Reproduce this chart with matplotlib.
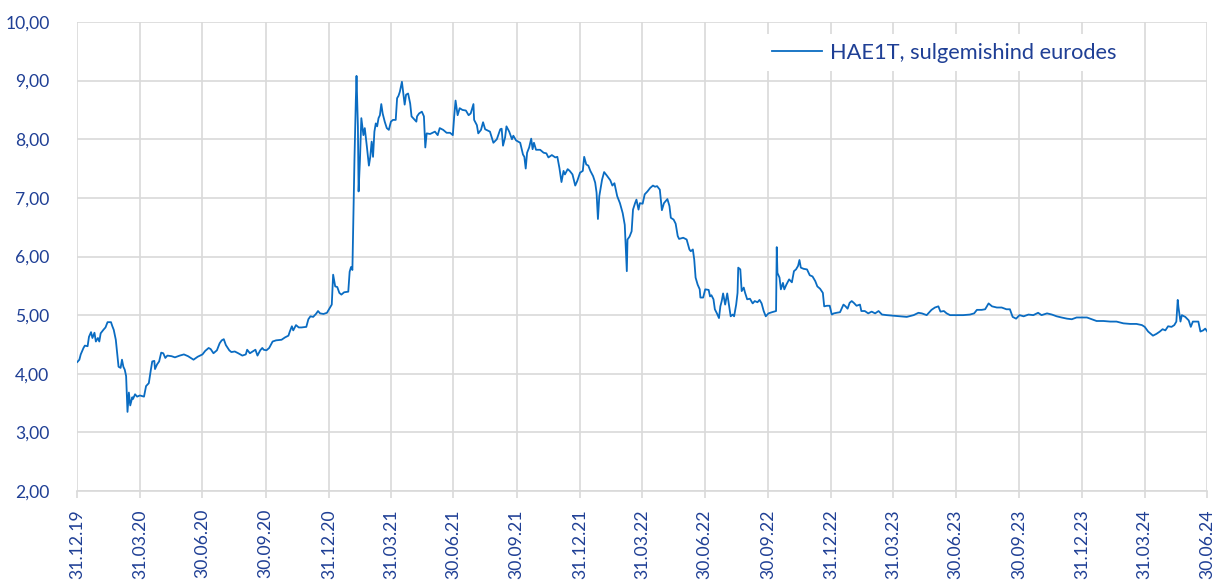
import pandas as pd
import matplotlib
matplotlib.use("Agg")
import matplotlib.pyplot as plt

# HAE1T sulgemishind, päevad alates 31.12.19
start = "2019-12-31"
days = [
    0, 3, 5, 9, 11, 15, 17, 20, 22, 25, 27, 30, 32, 34, 38, 41, 44, 49, 51, 53,
    56, 58, 60, 63, 65, 67, 69, 71, 73, 75, 77, 80, 81, 84, 87, 91, 97, 100, 104, 107,
    109, 112, 113, 116, 119, 122, 125, 128, 131, 137, 142, 149, 155, 161, 169, 175, 182, 186, 191, 194,
    198, 203, 207, 210, 213, 216, 221, 224, 229, 234, 240, 245, 247, 251, 255, 259, 262, 266, 269, 271,
    275, 279, 284, 289, 297, 302, 307, 309, 312, 314, 318, 322, 326, 333, 336, 339, 343, 347, 350, 353,
    358, 363, 366,
    370, 372, 375, 378, 381, 384, 388, 394, 396, 398, 400, 401, 403, 405, 406, 408, 409, 411, 413, 416,
    418, 421, 424, 426, 428, 430, 432, 434, 436, 438, 440, 442, 444, 447, 450, 453, 456, 459, 463, 465,
    467, 469, 472, 474, 476, 478, 481, 484, 486, 490, 493, 494, 497, 501, 504, 506, 508, 513, 520, 524,
    527, 532, 537, 542, 546, 548, 550, 553, 556, 560, 565, 569, 572, 576, 577, 581, 583,
    587, 590, 593, 600, 605, 610, 615, 617, 619, 622, 624, 628, 632, 634, 638, 644, 648, 650, 652, 654,
    657, 660, 662, 664, 667, 673, 678, 682, 685, 690, 695, 698, 701, 704, 707, 709, 713, 716, 720, 724,
    727, 731, 735, 737, 740, 743, 746, 750, 753, 755, 757, 759, 761, 763, 766, 770, 775, 778, 781, 783,
    785, 789, 793, 796, 797, 799, 800, 803, 806, 808, 811, 813, 816, 818, 822, 825, 829, 833, 837, 840,
    843, 847,
    850, 853, 858, 861, 863, 867, 870, 873, 875, 881, 886, 890, 892, 895, 897, 899, 902, 905, 906, 910,
    913, 918, 920, 922, 925, 927, 930, 933, 935, 937, 939, 942, 945, 948, 950, 953, 955, 958, 960, 961,
    964, 966, 969, 971, 974, 978, 982, 985, 989, 992, 995, 998, 1001, 1005, 1010, 1016, 1017, 1018, 1021, 1023,
    1026, 1028, 1031, 1035, 1039, 1042, 1045, 1048, 1050, 1052, 1056, 1061, 1065, 1069, 1073, 1076, 1080, 1084, 1086, 1090,
    1094, 1097, 1100, 1104, 1109, 1114, 1117, 1120, 1123, 1126, 1129, 1133, 1138,
    1140, 1145, 1150, 1155, 1160, 1165, 1170, 1177, 1187, 1196, 1206, 1216, 1223, 1228, 1235, 1242, 1247, 1252, 1255, 1260,
    1264, 1269, 1278, 1288, 1298, 1304, 1308, 1315, 1320, 1325, 1330, 1337, 1344, 1351, 1356, 1360, 1365, 1370, 1376, 1383,
    1390, 1397, 1402, 1410, 1417, 1424, 1431, 1439, 1446, 1453, 1462, 1468, 1475, 1482, 1492, 1502, 1511, 1521, 1531, 1540,
    1548, 1552, 1557, 1564, 1569, 1574, 1578, 1582, 1586, 1591, 1595, 1598, 1600, 1601, 1604, 1606, 1611, 1616, 1619, 1622,
    1630, 1633, 1637, 1640, 1643,
]
price = [
    4.20, 4.24, 4.33, 4.44, 4.48, 4.47, 4.63, 4.71, 4.61, 4.70, 4.55, 4.61, 4.55, 4.69, 4.75, 4.79, 4.88, 4.88, 4.81, 4.75,
    4.58, 4.35, 4.12, 4.10, 4.24, 4.12, 4.07, 3.96, 3.35, 3.68, 3.46, 3.60, 3.57, 3.65, 3.61, 3.63, 3.61, 3.79, 3.84, 4.07,
    4.21, 4.22, 4.08, 4.16, 4.21, 4.36, 4.35, 4.27, 4.31, 4.30, 4.28, 4.31, 4.33, 4.30, 4.24, 4.29, 4.33, 4.39, 4.44, 4.42,
    4.35, 4.40, 4.52, 4.57, 4.59, 4.49, 4.40, 4.37, 4.38, 4.35, 4.31, 4.33, 4.41, 4.35, 4.38, 4.41, 4.31, 4.40, 4.44, 4.41,
    4.40, 4.44, 4.55, 4.57, 4.58, 4.62, 4.65, 4.72, 4.81, 4.74, 4.83, 4.79, 4.79, 4.80, 4.93, 4.98, 4.97, 5.02, 5.07, 5.03,
    5.02, 5.04, 5.10,
    5.18, 5.69, 5.49, 5.48, 5.38, 5.35, 5.39, 5.40, 5.74, 5.82, 5.77, 6.40, 7.65, 8.67, 9.08, 8.22, 7.11, 7.65, 8.36, 8.07,
    8.19, 7.88, 7.55, 7.70, 7.96, 7.70, 8.13, 8.27, 8.22, 8.36, 8.41, 8.60, 8.44, 8.30, 8.19, 8.16, 8.30, 8.33, 8.33, 8.70,
    8.74, 8.81, 8.98, 8.78, 8.59, 8.76, 8.78, 8.61, 8.39, 8.34, 8.30, 8.39, 8.44, 8.47, 8.39, 7.86, 8.10, 8.09, 8.13, 8.07,
    8.19, 8.16, 8.11, 8.11, 8.07, 8.39, 8.66, 8.41, 8.53, 8.50, 8.49, 8.41, 8.44, 8.60, 8.33, 8.24, 8.10,
    8.16, 8.29, 8.17, 8.13, 7.94, 8.00, 8.17, 8.18, 7.89, 8.03, 8.22, 8.13, 8.00, 8.06, 7.98, 7.94, 7.74, 7.70, 7.50, 7.77,
    7.86, 8.01, 7.83, 7.94, 7.82, 7.82, 7.77, 7.76, 7.69, 7.73, 7.69, 7.70, 7.51, 7.27, 7.46, 7.40, 7.49, 7.46, 7.40, 7.21,
    7.29, 7.43, 7.46, 7.70, 7.57, 7.55, 7.46, 7.37, 7.26, 7.09, 6.64, 7.03, 7.17, 7.31, 7.44, 7.38, 7.30, 7.21, 7.25, 7.14,
    7.03, 6.91, 6.74, 6.54, 6.29, 5.75, 6.29, 6.34, 6.43, 6.80, 6.91, 6.97, 6.80, 6.91, 6.90, 7.06, 7.11, 7.17, 7.21, 7.19,
    7.20, 7.14,
    6.79, 6.91, 6.98, 6.86, 6.66, 6.63, 6.56, 6.35, 6.30, 6.32, 6.29, 6.12, 6.09, 6.12, 5.95, 5.64, 5.52, 5.44, 5.30, 5.30,
    5.44, 5.43, 5.32, 5.34, 5.27, 5.10, 5.03, 4.95, 5.15, 5.24, 5.37, 5.18, 5.37, 5.13, 4.98, 5.01, 4.98, 5.18, 5.38, 5.81,
    5.78, 5.41, 5.47, 5.38, 5.27, 5.28, 5.20, 5.24, 5.22, 5.26, 5.20, 5.07, 4.98, 5.03, 5.05, 5.07, 6.16, 5.72, 5.64, 5.44,
    5.55, 5.44, 5.52, 5.61, 5.56, 5.75, 5.78, 5.84, 5.94, 5.81, 5.79, 5.78, 5.68, 5.66, 5.58, 5.49, 5.45, 5.38, 5.15, 5.16,
    5.16, 5.01, 5.03, 5.04, 5.05, 5.18, 5.15, 5.11, 5.21, 5.24, 5.21, 5.16, 5.18,
    5.07, 5.07, 5.03, 5.06, 5.03, 5.07, 5.01, 5.00, 4.99, 4.98, 4.97, 5.00, 5.04, 5.03, 5.00, 5.09, 5.13, 5.15, 5.06, 5.07,
    5.03, 5.00, 5.00, 5.00, 5.01, 5.03, 5.09, 5.09, 5.10, 5.20, 5.15, 5.13, 5.13, 5.10, 5.10, 4.97, 4.94, 5.00, 4.98, 5.01,
    5.00, 5.04, 5.00, 5.03, 5.01, 4.98, 4.96, 4.94, 4.93, 4.96, 4.96, 4.96, 4.93, 4.90, 4.90, 4.89, 4.89, 4.86, 4.85, 4.85,
    4.83, 4.80, 4.72, 4.65, 4.68, 4.72, 4.76, 4.74, 4.81, 4.80, 4.83, 4.89, 5.26, 5.14, 4.89, 5.00, 4.97, 4.91, 4.80, 4.89,
    4.89, 4.72, 4.74, 4.77, 4.72,
]

x_labels = ["31.12.19", "31.03.20", "30.06.20", "30.09.20", "31.12.20", "31.03.21", "30.06.21",
            "30.09.21", "31.12.21", "31.03.22", "30.06.22", "30.09.22", "31.12.22", "31.03.23",
            "30.06.23", "30.09.23", "31.12.23", "31.03.24", "30.06.24"]
y_ticks = [2, 3, 4, 5, 6, 7, 8, 9, 10]
series_name = "HAE1T, sulgemishind eurodes"

text_col = "#1f3f95"
grid_col = "#d9d9d9"
line_col = "#0a6cc2"

plt.rcParams["font.family"] = ["Lato", "DejaVu Sans"]

dates = pd.Timestamp(start) + pd.to_timedelta(days, unit="D")
tick_dates = pd.to_datetime(x_labels, format="%d.%m.%y")

fig = plt.figure(figsize=(12.19, 5.80), dpi=100)
ax = fig.add_axes([0.0634, 0.1534, 0.9270, 0.8087])

ax.plot(dates, price, color=line_col, lw=1.3, label=series_name, zorder=3)

ax.set_xlim(tick_dates[0], tick_dates[-1])
ax.set_ylim(2, 10)
ax.set_yticks(y_ticks)
ax.set_yticklabels([f"{v:.2f}".replace(".", ",") for v in y_ticks])
ax.set_xticks(tick_dates)
ax.set_xticklabels(x_labels, rotation=90, va="top", ha="center")

ax.grid(True, color=grid_col, lw=1.2, zorder=0)
for s in ["top", "right", "left"]:
    ax.spines[s].set_visible(False)
ax.spines["bottom"].set_color(grid_col)
ax.spines["bottom"].set_linewidth(1.2)
ax.tick_params(axis="x", length=5, width=1.2, color=grid_col, pad=8, labelsize=12.7, labelcolor=text_col)
ax.tick_params(axis="y", length=0, pad=20, labelsize=12.6, labelcolor=text_col)

leg = ax.legend(loc="upper right", bbox_to_anchor=(0.937, 0.998), frameon=True, fancybox=False,
                framealpha=1, handlelength=2.3, handletextpad=0.38, fontsize=15.7,
                borderpad=0.4)
leg.get_frame().set_edgecolor("none")
for t in leg.get_texts():
    t.set_color(text_col)

fig.savefig("out.png", dpi=100)
